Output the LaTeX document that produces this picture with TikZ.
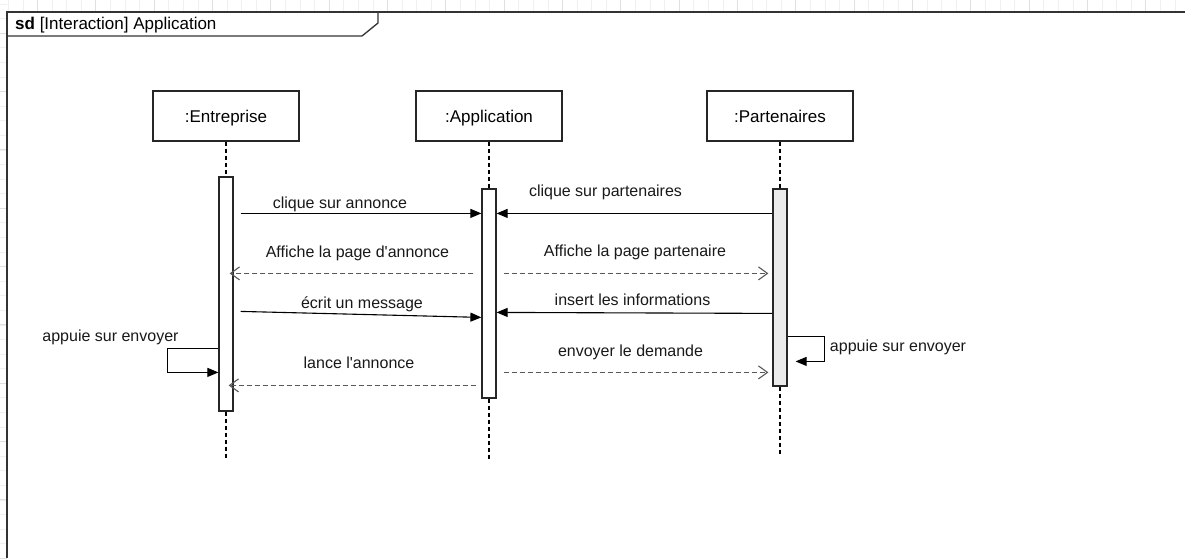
\documentclass[tikz,border=0pt]{standalone}
\usepackage{fontspec}
\setmainfont{Liberation Sans}
\usetikzlibrary{arrows.meta,calc}

\begin{document}
\begin{tikzpicture}[x=1pt,y=-1pt,
  gridminor/.style={draw=black!6, line width=0.6pt},
  gridmajor/.style={draw=black!12, line width=0.8pt},
  framestyle/.style={draw=black!80, line width=1.3pt},
  lifebox/.style={draw=black!85, line width=1.2pt, fill=white, minimum width=146pt,
    minimum height=50pt, inner sep=0pt, text height=12pt, text depth=0pt,
    font=\fontsize{17}{20}\selectfont},
  actbox/.style={draw=black!85, line width=1.2pt, fill=white, minimum width=14pt, inner sep=0pt},
  lifeline/.style={draw=black, line width=1.2pt, dash pattern=on 4pt off 3pt},
  syncmsg/.style={draw=black, line width=1.1pt, -{Triangle[length=11pt,width=9pt]}},
  replymsg/.style={draw=black!65, line width=1.1pt, dash pattern=on 5pt off 3pt,
    -{Straight Barb[length=9pt,width=13pt,line width=1.1pt]}},
  msglabel/.style={font=\fontsize{16}{19}\selectfont, inner sep=0pt, anchor=base, text=black!90},
]
\useasboundingbox (0,0) rectangle (1185,558);
\fill[white] (0,0) rectangle (1185,558);

% background grid showing around the frame
\foreach \i in {0,...,81} {\draw[gridminor] ({8.3+14.583*\i},0) -- ++(0,12);}
\foreach \i in {0,...,19} {\draw[gridmajor] ({37.5+58.333*\i},0) -- ++(0,12);}
\foreach \i in {0,...,38} {\draw[gridminor] (0,{4+14.583*\i}) -- ++(7,0);}
\foreach \i in {0,...,9} {\draw[gridmajor] (0,{33+58.333*\i}) -- ++(7,0);}
\fill[white] (7,12) rectangle (1185,558);

% interaction frame and its name tab
\draw[framestyle] (1185,12) -- (7,12) -- (7,558);
\draw[framestyle] (7,36) -- (362,36) -- (378,23) -- (378,12);
\node[anchor=base west, inner sep=0pt, font=\fontsize{17}{20}\selectfont] (title) at (15,29)
  {\textbf{sd} [Interaction] Application};

% lifeline heads
\node[lifebox] (boxE) at (226,116) {:Entreprise};
\node[lifebox] (boxA) at (489,116) {:Application};
\node[lifebox] (boxP) at (780,116) {:Partenaires};

% activation bars
\node[actbox, minimum height=234pt] (actE) at (226,294) {};
\node[actbox, minimum height=209pt] (actA) at (489,293.5) {};
\node[actbox, minimum height=197pt, fill=black!8] (actP) at (780,287.5) {};

% lifelines
\coordinate (endE) at (226,460);
\coordinate (endA) at (489,460);
\coordinate (endP) at (780,455);
\draw[lifeline] (boxE.south) -- (actE.north);
\draw[lifeline] (actE.south) -- (endE);
\draw[lifeline] (boxA.south) -- (actA.north);
\draw[lifeline] (actA.south) -- (endA);
\draw[lifeline] (boxP.south) -- (actP.north);
\draw[lifeline] (actP.south) -- (endP);

% messages
\draw[syncmsg] ($(actE.north east)+(7,37)$) -- ($(actA.north west)+(0,25)$);
\node[msglabel] (l1) at (340,208) {clique sur annonce};

\draw[syncmsg] ($(actP.north west)+(0,25)$) -- ($(actA.north east)+(0,25)$);
\node[msglabel] (l2) at (605.5,196) {clique sur partenaires};

\draw[replymsg] ($(actA.north west)+(-8,85)$) -- ($(actE.north east)+(-4,97)$);
\node[msglabel] (l3) at (357.5,257) {Affiche la page d\textquotesingle annonce};

\draw[replymsg] ($(actA.north east)+(7,85)$) -- ($(actP.north west)+(-4,85)$);
\node[msglabel] (l4) at (635,256) {Affiche la page partenaire};

\draw[syncmsg] ($(actE.north east)+(7,135)$) -- ($(actA.north west)+(0,129)$);
\node[msglabel] (l5) at (362,308) {écrit un message};

\draw[syncmsg] ($(actP.north west)+(0,125)$) -- ($(actA.north east)+(0,124)$);
\node[msglabel] (l6) at (632.5,305) {insert les informations};

\draw[syncmsg] ($(actE.north west)+(0,172)$) -- ++(-51,0) |- ($(actE.north west)+(0,196)$);
\node[msglabel] (l7) at (110.5,341) {appuie sur envoyer};

\draw[replymsg] ($(actA.north west)+(-5,197)$) -- ($(actE.north east)+(-5,209)$);
\node[msglabel] (l8) at (359,368) {lance l\textquotesingle annonce};

\draw[syncmsg] ($(actP.north east)+(0,148)$) -- ++(37,0) |- ($(actP.north east)+(8,173)$);
\node[msglabel] (l9) at (898,351) {appuie sur envoyer};

\draw[replymsg] ($(actA.north east)+(7,184)$) -- ($(actP.north west)+(-4,184)$);
\node[msglabel] (l10) at (630.5,356) {envoyer le demande};
\end{tikzpicture}
\end{document}
